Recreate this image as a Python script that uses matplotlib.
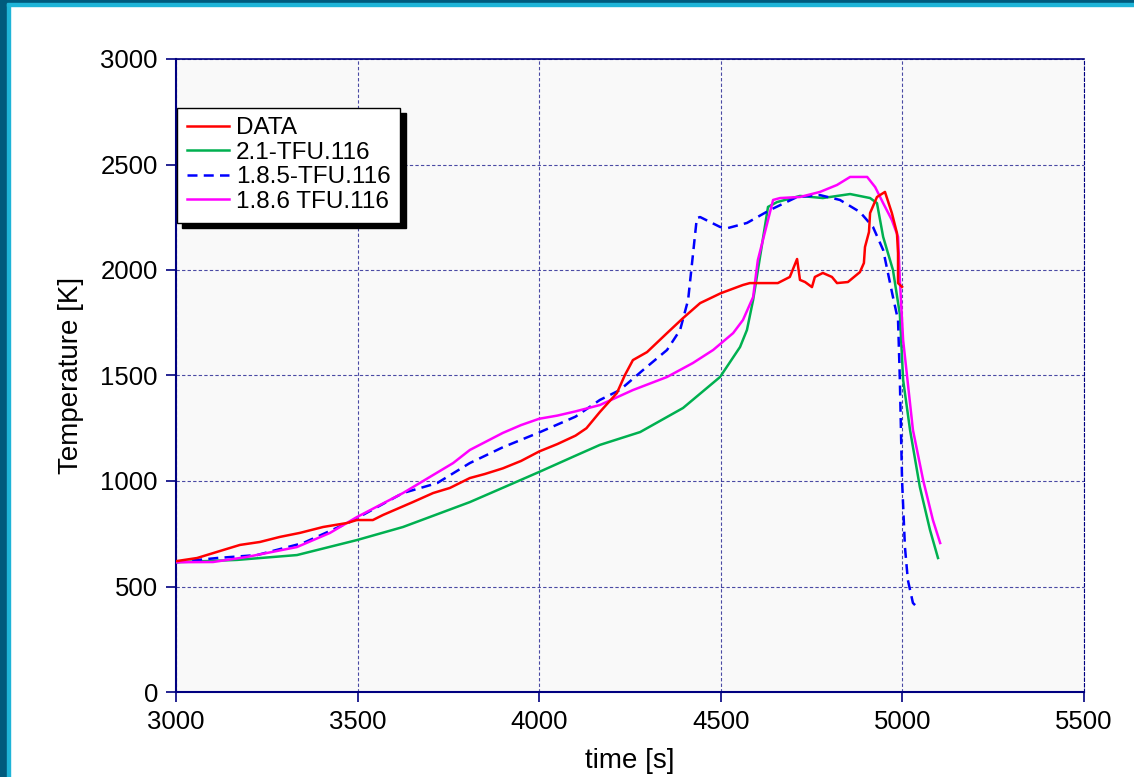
import matplotlib.pyplot as plt
from matplotlib.patches import Rectangle

# Series
data_time = [3000, 3058, 3113, 3176, 3231, 3286, 3341, 3405, 3471, 3498, 3542, 3570, 3652, 3708,
             3754, 3809, 3850, 3900, 3950, 4000, 4050, 4100, 4130, 4167, 4214, 4236, 4258, 4297,
             4352, 4396, 4443, 4500, 4561, 4580, 4657, 4690, 4710, 4718, 4732, 4751, 4759, 4781,
             4806, 4820, 4850, 4883, 4894, 4897, 4908, 4911, 4930, 4952, 4971, 4985, 4988, 4988, 4999]
data_temp = [620, 635, 664, 697, 711, 735, 754, 782, 801, 815, 815, 839, 900, 943,
             967, 1014, 1033, 1060, 1095, 1140, 1175, 1215, 1250, 1327, 1417, 1502, 1573, 1611,
             1701, 1772, 1843, 1890, 1929, 1938, 1938, 1967, 2052, 1953, 1943, 1919, 1967, 1986,
             1967, 1938, 1943, 1990, 2033, 2109, 2180, 2270, 2346, 2370, 2270, 2175, 2080, 1938, 1920]

tfu21_time = [3000, 3168, 3333, 3498, 3625, 3809, 3900, 4000, 4100, 4167, 4278, 4396, 4498, 4553,
              4572, 4589, 4608, 4630, 4655, 4718, 4781, 4856, 4911, 4930, 4947, 4974, 4993, 5002,
              5021, 5048, 5076, 5098]
tfu21_temp = [615, 626, 649, 720, 782, 900, 968, 1043, 1120, 1171, 1232, 1346, 1493, 1635,
              1716, 1858, 2062, 2299, 2322, 2351, 2341, 2360, 2341, 2317, 2157, 2000, 1790, 1479,
              1242, 972, 768, 635]

tfu185_time = [3000, 3113, 3223, 3350, 3479, 3625, 3719, 3809, 3900, 4000, 4100, 4167, 4222, 4286,
               4352, 4388, 4410, 4434, 4443, 4498, 4520, 4572, 4635, 4710, 4773, 4828, 4883, 4919,
               4947, 4974, 4988, 4993, 4999, 5007, 5015, 5029, 5040]
tfu185_temp = [615, 635, 649, 706, 806, 943, 990, 1085, 1160, 1230, 1305, 1384, 1431, 1526,
               1621, 1716, 1858, 2246, 2251, 2204, 2199, 2223, 2284, 2346, 2355, 2332, 2275, 2204,
               2095, 1872, 1763, 1479, 1005, 687, 531, 422, 403]

tfu186_time = [3000, 3102, 3195, 3333, 3424, 3498, 3625, 3763, 3809, 3900, 3950, 4000, 4050, 4100,
               4167, 4258, 4352, 4423, 4479, 4534, 4561, 4589, 4602, 4616, 4644, 4663, 4718, 4773,
               4820, 4856, 4903, 4925, 4947, 4971, 4988, 4993, 5002, 5029, 5057, 5084, 5104]
tfu186_temp = [615, 616, 640, 687, 754, 829, 943, 1085, 1147, 1228, 1265, 1295, 1310, 1330,
               1360, 1431, 1493, 1559, 1621, 1701, 1763, 1872, 2047, 2142, 2332, 2341, 2346, 2370,
               2403, 2441, 2441, 2393, 2317, 2237, 2157, 1953, 1668, 1242, 1005, 815, 706]

x_ticks = [3000, 3500, 4000, 4500, 5000, 5500]
y_ticks = [0, 500, 1000, 1500, 2000, 2500, 3000]

navy = '#000080'
plt.rcParams['font.family'] = ['Liberation Sans', 'DejaVu Sans']

fig = plt.figure(figsize=(11.34, 7.77), dpi=100)
fig.patch.set_facecolor('white')

# Slide frame on the left and top edges
W, H = 1134, 777
fig.patches.append(Rectangle((0, 0), 7 / W, 1, transform=fig.transFigure, color='#005A7D', zorder=0))
fig.patches.append(Rectangle((7 / W, 0), 3 / W, 1 - 3 / H, transform=fig.transFigure, color='#1EB4D8', zorder=0))
fig.patches.append(Rectangle((0, 1 - 3 / H), 1, 3 / H, transform=fig.transFigure, color='#005A7D', zorder=0))
fig.patches.append(Rectangle((7 / W, 1 - 6 / H), 1, 3 / H, transform=fig.transFigure, color='#1EB4D8', zorder=0))

ax = fig.add_axes([176 / W, 1 - 692 / H, 908 / W, 633 / H])
ax.set_facecolor('#F9F9F9')

ax.plot(data_time, data_temp, color='#FF0000', lw=1.8, label='DATA', zorder=5)
ax.plot(tfu21_time, tfu21_temp, color='#00B050', lw=1.8, label='2.1-TFU.116', zorder=3)
ax.plot(tfu185_time, tfu185_temp, color='#0000FF', lw=1.8, ls=(0, (4, 2.5)), label='1.8.5-TFU.116', zorder=4)
ax.plot(tfu186_time, tfu186_temp, color='#FF00FF', lw=1.8, label='1.8.6 TFU.116', zorder=4)

ax.set_xlim(3000, 5500)
ax.set_ylim(0, 3000)
ax.set_xticks(x_ticks)
ax.set_yticks(y_ticks)
ax.grid(True, color=navy, ls=(0, (3, 2)), lw=0.8, alpha=0.7)
ax.set_axisbelow(True)

for side in ['left', 'bottom']:
    ax.spines[side].set_color(navy)
    ax.spines[side].set_linewidth(1.5)
ax.spines['top'].set_color(navy)
ax.spines['top'].set_linewidth(1.2)
ax.spines['right'].set_color(navy)
ax.spines['right'].set_linewidth(0.8)
ax.spines['right'].set_linestyle((0, (3, 2)))

ax.tick_params(axis='both', direction='out', length=7, width=1.2, color=navy,
               labelsize=18.5, labelcolor='black', pad=6)

ax.set_xlabel('time [s]', fontsize=20, labelpad=10)
ax.set_ylabel('Temperature [K]', fontsize=20, labelpad=12)

leg = ax.legend(loc='upper left', bbox_to_anchor=(0.001, 0.923), borderaxespad=0,
                fontsize=17.5, frameon=True, fancybox=False, edgecolor='black',
                handlelength=1.75, handletextpad=0.28, labelspacing=0.1,
                borderpad=0.4, shadow={'color': 'black', 'alpha': 1, 'ox': 4, 'oy': -4})
leg.get_frame().set_linewidth(1.0)
leg.get_frame().set_facecolor('white')

fig.savefig('out.png', dpi=100)
